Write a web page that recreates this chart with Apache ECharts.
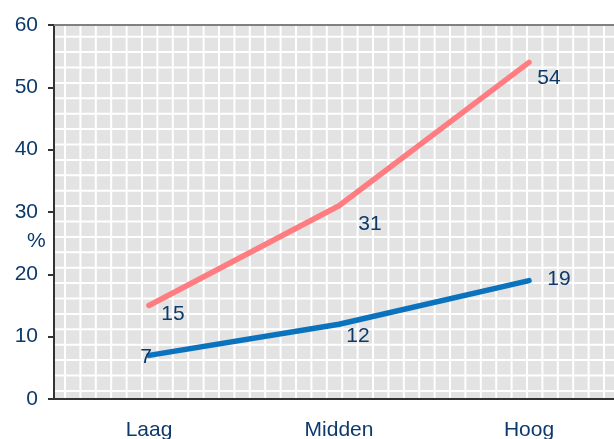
<!DOCTYPE html>
<html>
<head>
<meta charset="utf-8">
<script src="https://cdn.jsdelivr.net/npm/echarts@6/dist/echarts.min.js"></script>
<style>
  html, body { margin: 0; padding: 0; background: #fff; }
  #chart { width: 614px; height: 439px; }
</style>
</head>
<body>
<div id="chart"></div>
<script>
// data
var categories = ['Laag', 'Midden', 'Hoog'];
var hoogValues = [15, 31, 54];   // rode lijn
var laagValues = [7, 12, 19];    // blauwe lijn
var yTicks = [0, 10, 20, 30, 40, 50, 60];

// label offsets (px) t.o.v. het punt
var redOffsets = [[24, 9], [31, 18], [20, 16]];
var blueOffsets = [[-3, 2], [19, 12], [30, -1]];

// achtergrond raster (zoals Excel patroonvulling)
function makePattern() {
    var c = document.createElement('canvas');
    c.width = 154; c.height = 154;
    var ctx = c.getContext('2d');
    ctx.fillStyle = '#e3e3e3';
    ctx.fillRect(0, 0, 154, 154);
    ctx.strokeStyle = '#ffffff';
    ctx.lineWidth = 2;
    for (var k = 0; k < 11; k++) {
        var x = 3.4 + k * 15.4;
        var y = 5.9 + k * 15.4;
        ctx.beginPath(); ctx.moveTo(x, 0); ctx.lineTo(x, 154); ctx.stroke();
        ctx.beginPath(); ctx.moveTo(0, y); ctx.lineTo(154, y); ctx.stroke();
    }
    return c;
}

function buildData(values, offsets) {
    var out = [];
    for (var i = 0; i < values.length; i++) {
        out.push({ value: values[i], label: { offset: offsets[i] } });
    }
    return out;
}

var navy = '#0d3a6b';
var font = 'Liberation Sans, Arial, sans-serif';
var fs = 21;

var chart = echarts.init(document.getElementById('chart'));
var option = {
    animation: false,
    backgroundColor: '#ffffff',
    grid: {
        left: 54, top: 25, bottom: 40, width: 570,
        outerBoundsMode: 'none',
        containLabel: false,
        show: true,
        backgroundColor: { image: makePattern(), repeat: 'repeat' },
        borderWidth: 0
    },
    xAxis: {
        type: 'category',
        data: categories,
        boundaryGap: true,
        axisLine: { show: true, lineStyle: { color: '#333', width: 2 } },
        axisTick: { show: false },
        axisLabel: { color: navy, fontSize: fs, fontFamily: font, margin: 21 },
        splitLine: { show: false }
    },
    yAxis: [{
        type: 'value',
        min: yTicks[0], max: yTicks[yTicks.length - 1], interval: 10,
        axisLine: { show: true, lineStyle: { color: '#333', width: 2 } },
        axisTick: { show: true, length: 6, lineStyle: { color: '#333', width: 2 } },
        axisLabel: { color: navy, fontSize: fs, fontFamily: font, margin: 16 },
        splitLine: { show: false }
    }],
    graphic: [
        { type: 'text', left: 27, top: 231, style: { text: '%', fill: navy, font: fs + 'px ' + font } },
        // grijze bovenrand
        { type: 'rect', shape: { x: 54, y: 24, width: 560, height: 2 }, style: { fill: '#808080' }, z: 100 }
    ],
    series: [{
        type: 'line',
        data: buildData(hoogValues, redOffsets),
        symbol: 'circle', symbolSize: 1, showSymbol: true,
        itemStyle: { color: '#ff7c80' },
        lineStyle: { color: '#ff7c80', width: 5.5, cap: 'round', join: 'round' },
        label: { show: true, position: 'inside', color: navy, fontSize: fs, fontFamily: font },
        z: 3
    }, {
        type: 'line',
        data: buildData(laagValues, blueOffsets),
        symbol: 'circle', symbolSize: 1, showSymbol: true,
        itemStyle: { color: '#0b72bd' },
        lineStyle: { color: '#0b72bd', width: 5.5, cap: 'round', join: 'round' },
        label: { show: true, position: 'inside', color: navy, fontSize: fs, fontFamily: font },
        z: 3
    }]
};
chart.setOption(option);
</script>
</body>
</html>
